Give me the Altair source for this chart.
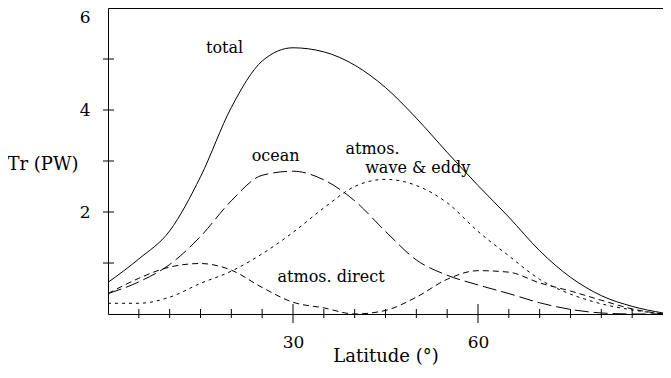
import altair as alt
import pandas as pd

# Latitude grid (degrees)
lat = [0, 5, 10, 15, 20, 25, 30, 35, 40, 45, 50, 55, 60, 65, 70, 75, 80, 85, 90]
# Transport (PW)
total = [0.62, 1.08, 1.63, 2.69, 4.05, 4.96, 5.22, 5.14, 4.88, 4.44, 3.84, 3.17, 2.52, 1.90, 1.24, 0.72, 0.36, 0.15, 0.02]
ocean = [0.40, 0.63, 0.97, 1.52, 2.22, 2.72, 2.80, 2.63, 2.22, 1.62, 1.06, 0.76, 0.57, 0.40, 0.22, 0.09, 0.02, 0.0, 0.0]
eddy = [0.21, 0.21, 0.33, 0.60, 0.84, 1.18, 1.60, 2.08, 2.50, 2.64, 2.52, 2.18, 1.62, 1.14, 0.68, 0.39, 0.20, 0.08, 0.0]
direct = [0.40, 0.70, 0.92, 0.99, 0.86, 0.52, 0.23, 0.12, 0.0, 0.07, 0.33, 0.68, 0.85, 0.82, 0.61, 0.45, 0.27, 0.10, 0.0]

x_minor_ticks = [5, 10, 15, 20, 25, 35, 40, 45, 50, 55, 65, 70, 75, 80, 85]
x_major_ticks = [30, 60]
x_labels = [30, 60]
y_ticks = [1, 2, 3, 4, 5]
y_labels = [2, 4, 6]

label_text = ["total", "ocean", "atmos.", "wave & eddy", "atmos. direct"]
label_lat = [15.9, 23.3, 38.5, 41.7, 27.5]
label_val = [5.12, 3.0, 3.14, 2.77, 0.63]

FONT = "DejaVu Serif"

H = 306
W = 555

xs = alt.Scale(domain=[0, 90], nice=False, zero=False)
ys = alt.Scale(domain=[0, 6], nice=False)
xaxis = alt.Axis(values=x_labels, title="Latitude (°)", grid=False, domain=False,
                 ticks=False, tickSize=0, labelPadding=20, labelFontSize=17,
                 labelFont=FONT, titleFont=FONT, titleFontSize=18,
                 titleFontWeight="normal", titleY=47, titleBaseline="alphabetic",
                 labelColor="black", titleColor="black")
yaxis = alt.Axis(values=y_labels, title="Tr (PW)", grid=False, domain=False,
                 ticks=False, tickSize=0, labelPadding=18, labelFontSize=17,
                 labelFont=FONT, titleFont=FONT, titleFontSize=18,
                 titleFontWeight="normal", titleAngle=0, titleAlign="right",
                 titleBaseline="alphabetic", titleX=-30, titleY=161,
                 labelOffset={"condition": {"test": "datum.value == 6", "value": 9}, "value": 0},
                 labelColor="black", titleColor="black")


def X(field):
    return alt.X(field, type="quantitative", scale=xs, axis=xaxis)


def Y(field):
    return alt.Y(field, type="quantitative", scale=ys, axis=yaxis)


curves = pd.DataFrame({"lat": lat, "total": total, "ocean": ocean,
                       "eddy": eddy, "direct": direct})

styles = {
    "total": None,
    "ocean": [14, 5],
    "eddy": [3, 4],
    "direct": [6, 4],
}

layers = []
for name, dash in styles.items():
    kw = dict(color="black", strokeWidth=1, interpolate="monotone")
    if dash is not None:
        kw["strokeDash"] = dash
    layers.append(alt.Chart(curves).mark_line(**kw).encode(x=X("lat"), y=Y(name)))

minor_df = pd.DataFrame({"t": x_minor_ticks})
major_df = pd.DataFrame({"t": x_major_ticks})
ytick_df = pd.DataFrame({"v": y_ticks})

layers.append(alt.Chart(minor_df).mark_rule(color="black", strokeWidth=1).encode(
    x=X("t"), y=alt.value(H - 5), y2=alt.value(H + 4)))
layers.append(alt.Chart(major_df).mark_rule(color="black", strokeWidth=1).encode(
    x=X("t"), y=alt.value(H - 10), y2=alt.value(H + 9)))
layers.append(alt.Chart(ytick_df).mark_rule(color="black", strokeWidth=1).encode(
    y=Y("v"), x=alt.value(-5), x2=alt.value(6)))

labels_df = pd.DataFrame({"text": label_text, "lat": label_lat, "val": label_val})
layers.append(alt.Chart(labels_df).mark_text(
    align="left", baseline="alphabetic", font=FONT, fontSize=16, color="black").encode(
    x=X("lat"), y=Y("val"), text="text:N"))

chart = alt.layer(*layers).properties(
    width=W, height=H,
    padding={"left": 100, "top": 0, "right": 0, "bottom": 52},
    autosize=alt.AutoSizeParams(type="none"),
    background="white",
).configure_view(stroke="black", strokeWidth=1)

chart.save("out.html", embed_options={"renderer": "svg", "actions": False})
